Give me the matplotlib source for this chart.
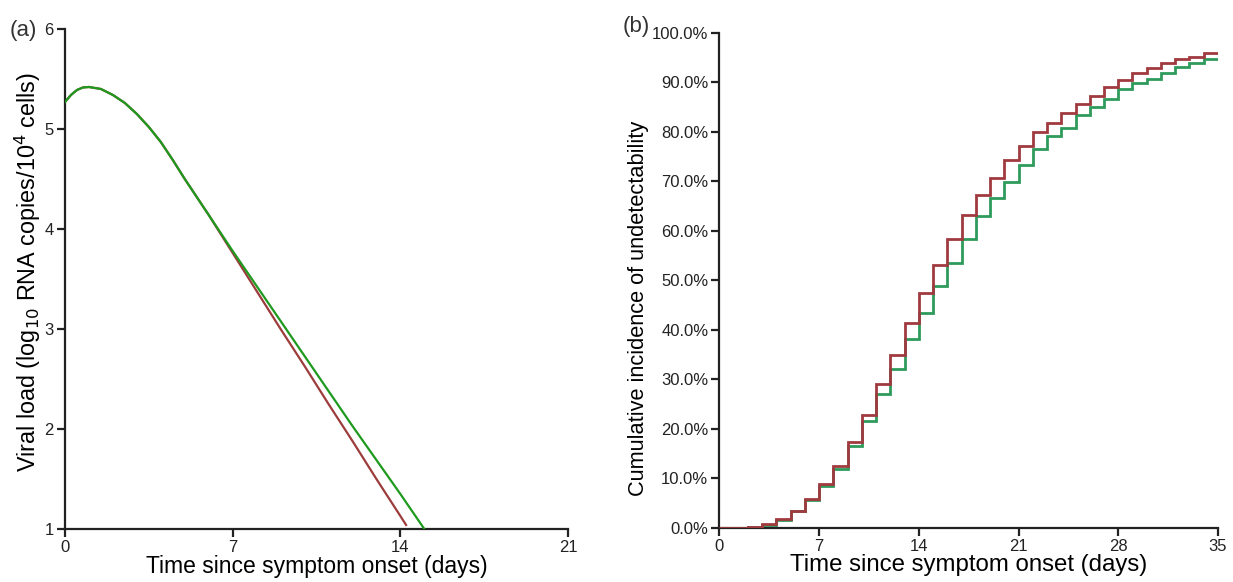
import matplotlib
matplotlib.use("Agg")
import matplotlib.pyplot as plt
import numpy as np

plt.rcParams['font.family'] = ['Liberation Sans', 'DejaVu Sans']

# ---- Panel (a): viral load curves ----
days_a_green = [0, 0.25, 0.5, 0.75, 1.0, 1.5, 2.0, 2.5, 3.0, 3.5, 4.0, 4.5, 5.0,
                5.5, 6.0, 6.5, 7.0, 8, 9, 10, 11, 12, 13, 14, 15]
load_green = [5.27, 5.34, 5.39, 5.415, 5.42, 5.40, 5.34, 5.26, 5.15, 5.02, 4.87, 4.69, 4.50,
              4.32, 4.14, 3.96, 3.78, 3.43, 3.08, 2.73, 2.38, 2.03, 1.69, 1.35, 1.0]
days_a_red = [0, 0.25, 0.5, 0.75, 1.0, 1.5, 2.0, 2.5, 3.0, 3.5, 4.0, 4.5, 5.0,
              5.5, 6.0, 6.5, 7.0, 8, 9, 10, 11, 12, 13, 14, 14.24]
load_red = [5.27, 5.34, 5.39, 5.415, 5.42, 5.40, 5.34, 5.26, 5.15, 5.02, 4.87, 4.69, 4.50,
            4.32, 4.14, 3.95, 3.76, 3.38, 3.00, 2.63, 2.25, 1.88, 1.50, 1.13, 1.04]

# ---- Panel (b): cumulative incidence (value on each day interval [d, d+1)) ----
days_b = list(range(36))
cum_red = [0.0, 0.0, 0.3, 0.8, 1.9, 3.5, 5.8, 8.8, 12.5, 17.3,
           22.9, 29.1, 34.9, 41.5, 47.4, 53.1, 58.3, 63.3, 67.3, 70.8,
           74.3, 77.2, 79.9, 81.9, 83.9, 85.6, 87.3, 89.0, 90.5, 91.9,
           93.0, 93.9, 94.7, 95.2, 95.9]
cum_green = [0.0, 0.0, 0.2, 0.6, 1.7, 3.4, 5.6, 8.4, 12.0, 16.5,
             21.6, 27.0, 32.1, 38.1, 43.4, 48.9, 53.5, 58.3, 63.0, 66.6,
             69.8, 73.3, 76.5, 79.1, 80.8, 83.5, 85.0, 86.6, 88.6, 89.9,
             90.7, 92.0, 93.2, 93.9, 94.7]

xticks_a = [0, 7, 14, 21]
yticks_a = [1, 2, 3, 4, 5, 6]
xticks_b = [0, 7, 14, 21, 28, 35]
yticks_b = list(range(0, 101, 10))

GREEN_A = '#1e9a1e'
RED_A = '#9c3c3c'
GREEN_B = '#2e9a5c'
RED_B = '#a03a3e'
AX_COL = '#222222'

fig = plt.figure(figsize=(12.33, 5.82), dpi=100)

def style(ax):
    for s in ['top', 'right']:
        ax.spines[s].set_visible(False)
    for s in ['left', 'bottom']:
        ax.spines[s].set_linewidth(1.6)
        ax.spines[s].set_color(AX_COL)
    ax.tick_params(direction='out', length=6, width=1.6, color=AX_COL,
                   labelsize=12, labelcolor='#222222', pad=2)

# Panel a
axa = fig.add_axes([0.0527, 0.0911, 0.4080, 0.8591])
axa.plot(days_a_red, load_red, color=RED_A, lw=1.6, zorder=2)
axa.plot(days_a_green, load_green, color=GREEN_A, lw=1.6, zorder=3)
axa.set_xlim(0, 21)
axa.set_ylim(1, 6)
axa.set_xticks(xticks_a)
axa.set_yticks(yticks_a)
style(axa)
axa.set_xlabel('Time since symptom onset (days)', fontsize=16.5, labelpad=0)
axa.set_ylabel(r'Viral load (log$_{10}$ RNA copies/10$^{4}$ cells)', fontsize=16.8)
axa.yaxis.set_label_coords(-0.044, 0.514)
fig.text(0.008, 0.948, '(a)', fontsize=16, color='#333333', ha='left', va='center')

# Panel b
axb = fig.add_axes([0.5835, 0.0928, 0.4043, 0.8505])
axb.stairs(cum_green, days_b, baseline=None, color=GREEN_B, lw=2.0, zorder=2)
axb.stairs(cum_red, days_b, baseline=None, color=RED_B, lw=2.0, zorder=3)
axb.set_xlim(0, 35)
axb.set_ylim(0, 100)
axb.set_xticks(xticks_b)
axb.set_yticks(yticks_b)
axb.set_yticklabels([f'{v:.1f}%' for v in yticks_b])
style(axb)
axb.set_xlabel('Time since symptom onset (days)', fontsize=17.3, labelpad=0)
axb.set_ylabel('Cumulative incidence of undetectability', fontsize=15.7)
axb.yaxis.set_label_coords(-0.142, 0.444)
fig.text(0.505, 0.955, '(b)', fontsize=16, color='#333333', ha='left', va='center')

fig.savefig('out.png', dpi=100)
